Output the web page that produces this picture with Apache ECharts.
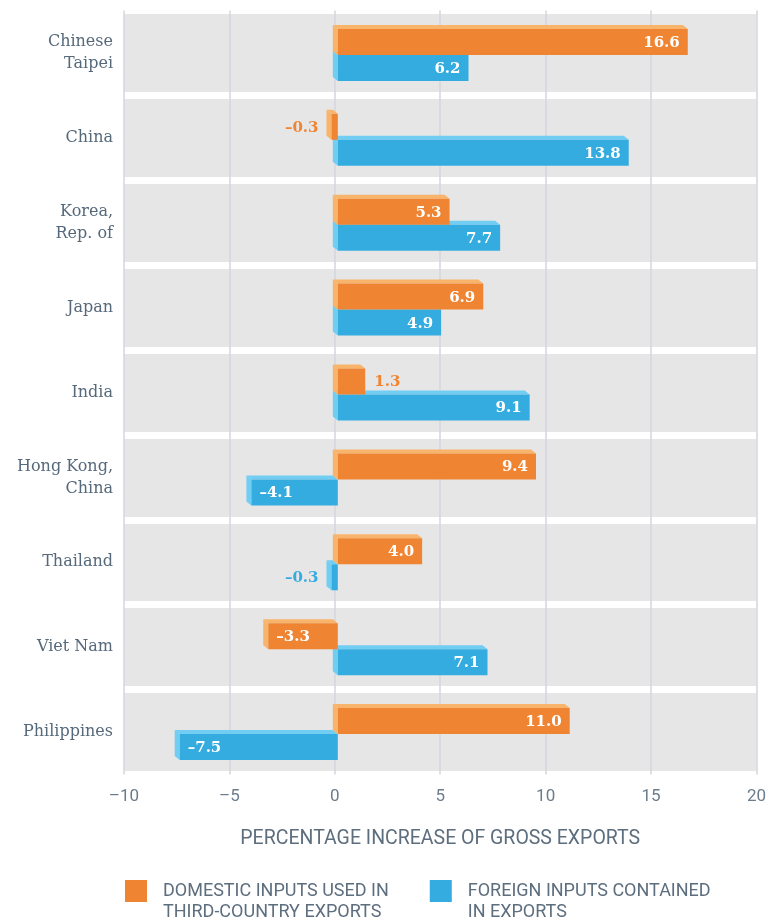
<!DOCTYPE html>
<html>
<head>
<meta charset="utf-8">
<script src="https://cdn.jsdelivr.net/npm/echarts@6/dist/echarts.min.js"></script>
<style>
html, body { margin: 0; padding: 0; background: #fff; }
#chart { width: 769px; height: 920px; }
</style>
</head>
<body>
<div id="chart"></div>
<script>
// economies (top to bottom)
const categories = ['Chinese\nTaipei', 'China', 'Korea,\nRep. of', 'Japan', 'India', 'Hong Kong,\nChina', 'Thailand', 'Viet Nam', 'Philippines']
// domestic inputs used in third-country exports
const domestic = [16.6, -0.3, 5.3, 6.9, 1.3, 9.4, 4.0, -3.3, 11.0]
// foreign inputs contained in exports
const foreign = [6.2, 13.8, 7.7, 4.9, 9.1, -4.1, -0.3, 7.1, -7.5]
const xTicks = { min: -10, max: 20, interval: 5 }

const domName = 'DOMESTIC INPUTS USED IN\nTHIRD-COUNTRY EXPORTS'
const forName = 'FOREIGN INPUTS CONTAINED\nIN EXPORTS'

const fmt = v => v.toFixed(1).replace('-', '\u2013')

// 3D-ish bar: front face + lighter top/left faces toward the back
const makeRender = (front, light, yOff) => (params, api) => {
    const v = api.value(0)
    const cat = api.value(1)
    const p0 = api.coord([0, cat])
    const pv = api.coord([v, cat])
    const h = 26, d = 5, e = 4, s = 3
    const y1 = p0[1] + yOff, y2 = y1 + h
    const x1 = Math.min(p0[0], pv[0]) + s
    const x2 = Math.max(p0[0], pv[0]) + s
    const children = [
        { type: 'polygon', shape: { points: [[x1, y1], [x2, y1], [x2 - d, y1 - e], [x1 - d, y1 - e]] }, style: { fill: light } },
        { type: 'polygon', shape: { points: [[x1, y1], [x1, y2], [x1 - d, y2 - e], [x1 - d, y1 - e]] }, style: { fill: light } },
        { type: 'rect', shape: { x: x1, y: y1, width: x2 - x1, height: h }, style: { fill: front } },
    ]
    let tx, align, color
    if (Math.abs(v) >= 2) {
        color = '#fff'
        if (v > 0) { tx = x2 - 8; align = 'right' } else { tx = x1 + 8; align = 'left' }
    } else {
        color = front
        if (v > 0) { tx = x2 + 9; align = 'left' } else { tx = x1 - d - 8; align = 'right' }
    }
    children.push({
        type: 'text',
        style: {
            x: tx, y: y1 + h / 2 + 1, text: fmt(v), align: align, verticalAlign: 'middle',
            fill: color, font: 'bold 15px "DejaVu Serif"'
        }
    })
    return { type: 'group', children: children }
}

const chart = echarts.init(document.getElementById('chart'))
const option = {
    animation: false,
    grid: { left: 124, right: 12, top: 10.5, bottom: 145.5 },
    legend: {
        left: 125, top: 880, padding: 0,
        data: [domName, forName],
        // square in the upper half so it lines up with the first text line
        icon: 'path://M0,0H22V22H0Z M0,43L0.01,43Z', itemWidth: 22, itemHeight: 43, itemGap: 41,
        textStyle: { fontFamily: 'Roboto', fontSize: 18, color: '#5d6e7e', lineHeight: 21, padding: [0, 0, 0, 11] }
    },
    xAxis: {
        type: 'value', min: xTicks.min, max: xTicks.max, interval: xTicks.interval,
        axisLine: { show: false }, axisTick: { show: false },
        splitLine: { show: true, lineStyle: { color: '#d3d6dc', width: 1.5 } },
        axisLabel: { margin: 14, fontFamily: 'Roboto', fontSize: 17, color: '#6b7d8c', formatter: v => String(v).replace('-', '\u2013') },
        name: 'PERCENTAGE INCREASE OF GROSS EXPORTS', nameLocation: 'middle', nameGap: 55,
        nameTextStyle: { fontFamily: 'Roboto', fontSize: 19.5, color: '#5d6e7e' }
    },
    yAxis: {
        type: 'category', data: categories, inverse: true,
        axisLine: { show: false }, axisTick: { show: false },
        splitArea: { show: true, areaStyle: { color: ['#e6e6e6'] } },
        splitLine: { show: true, lineStyle: { color: '#ffffff', width: 7 } },
        axisLabel: { margin: 11, fontFamily: 'DejaVu Serif', fontSize: 16, lineHeight: 22, color: '#56697a' }
    },
    series: [
        {
            name: forName, type: 'custom', itemStyle: { color: '#35ace0' },
            encode: { x: 0, y: 1 },
            renderItem: makeRender('#35ace0', '#72cdf2', 2),
            data: foreign.map((v, i) => [v, i])
        },
        {
            name: domName, type: 'custom', itemStyle: { color: '#ef8432' },
            encode: { x: 0, y: 1 },
            renderItem: makeRender('#ef8432', '#f8b46a', -24),
            data: domestic.map((v, i) => [v, i])
        }
    ]
}
chart.setOption(option)
</script>
</body>
</html>
